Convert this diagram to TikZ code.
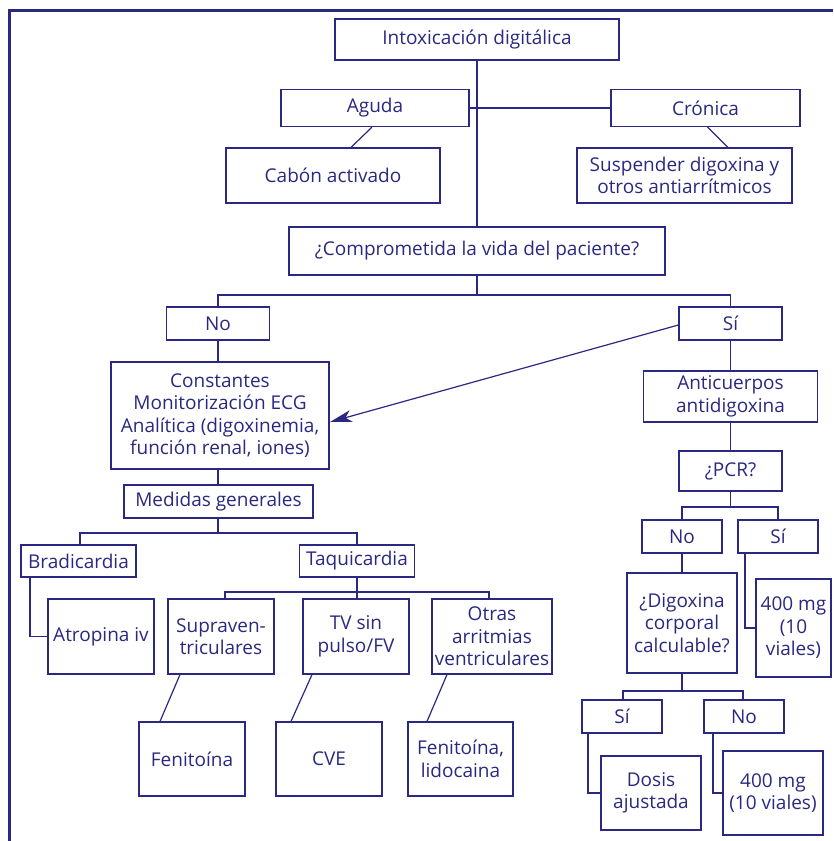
\documentclass[tikz,border=0pt]{standalone}
\usepackage{fontspec}
\setmainfont{Open Sans}
\usetikzlibrary{arrows.meta}
\definecolor{navy}{RGB}{42,40,128}
\begin{document}
\begin{tikzpicture}[x=1pt,y=-1pt,
  box/.style={draw=navy,line width=1.2pt,text=navy,inner sep=0pt,align=center,
    font=\fontsize{19}{22.5}\selectfont},
  conn/.style={draw=navy,line width=1.2pt},
  frame/.style={draw=navy,line width=2.6pt}]
\useasboundingbox (0,0) rectangle (833,841);
\draw[frame] (9.3,841) -- (9.3,10.3) -- (833,10.3);
% top part
\node[box,minimum width=284,minimum height=41] (intox) at (477,39.5) {Intoxicación digitálica};
\node[box,minimum width=188,minimum height=37] (aguda) at (375,108) {Aguda};
\node[box,minimum width=189,minimum height=37] (cronica) at (705.5,108) {Crónica};
\node[box,minimum width=214,minimum height=55] (cabon) at (333,175.5) {Cabón activado};
\node[box,minimum width=215,minimum height=55] (susp) at (684.5,175.5) {Suspender digoxina y\\otros antiarrítmicos};
\node[box,minimum width=376,minimum height=48] (compro) at (477,251) {¿Comprometida la vida del paciente?};
\draw[conn] (intox.south) -- (compro.north);
\draw[conn] (aguda.east) -- (cronica.west);
\draw[conn] ([xshift=-3]aguda.south) -- ([xshift=18]cabon.north);
\draw[conn] ([xshift=2]cronica.south) -- ([xshift=43.5]susp.north);
% No / Si
\coordinate (split1) at (477,295);
\node[box,minimum width=103,minimum height=33] (no1) at (218,323.5) {No};
\node[box,minimum width=103,minimum height=33] (si1) at (730.5,323.5) {Sí};
\draw[conn] (compro.south) -- (split1);
\draw[conn] (no1.north) |- (split1) -| (si1.north);
% left branch
\node[box,minimum width=218,minimum height=107] (const) at (220,415.5) {Constantes\\Monitorización ECG\\Analítica (digoxinemia,\\función renal, iones)};
\node[box,minimum width=189,minimum height=33] (medidas) at (218.5,501.5) {Medidas generales};
\draw[conn] (no1.south) -- (no1.south |- const.north);
\draw[conn] (const.south -| no1.south) -- (medidas.north -| no1.south);
\draw[conn,-{Stealth[length=22pt,width=12pt,inset=6pt]}] ([yshift=-1.5]si1.west) -- (330,422);
\coordinate (split2) at (218,533);
\node[box,minimum width=115,minimum height=32] (brad) at (78.5,561) {Bradicardia};
\node[box,minimum width=115,minimum height=32] (taqui) at (357,561) {Taquicardia};
\draw[conn] (medidas.south -| split2) -- (split2);
\draw[conn] ([xshift=1.5]brad.north) |- (split2) -| (taqui.north);
\node[box,minimum width=106,minimum height=75] (atro) at (101,636.5) {Atropina iv};
\draw[conn] ([xshift=-48.5]brad.south) |- (atro.west);
\coordinate (split3) at (357,592);
\node[box,minimum width=106,minimum height=75] (supra) at (221,636.5) {Supraven-\\triculares};
\node[box,minimum width=106,minimum height=75] (tv) at (356,636.5) {TV sin\\pulso/FV};
\node[box,minimum width=120,minimum height=75] (otras) at (492,636.5) {Otras\\arritmias\\ventriculares};
\draw[conn] (taqui.south) -- (split3);
\draw[conn] ([xshift=4]supra.north) |- (split3) -| ([xshift=-3]otras.north);
\draw[conn] (split3) -- (split3 |- tv.north);
\node[box,minimum width=106,minimum height=74] (feni) at (192,759) {Fenitoína};
\node[box,minimum width=106,minimum height=74] (cve) at (329,759) {CVE};
\node[box,minimum width=105,minimum height=74] (fenil) at (460.5,759) {Fenitoína,\\lidocaina};
\draw[conn] ([xshift=-41]supra.south) -- ([xshift=-32]feni.north);
\draw[conn] ([xshift=-44]tv.south) -- ([xshift=-38]cve.north);
\draw[conn] ([xshift=-45]otras.south) -- ([xshift=-33.5]fenil.north);
% right branch
\node[box,minimum width=174,minimum height=51] (anti) at (730.5,396.5) {Anticuerpos\\antidigoxina};
\node[box,minimum width=103,minimum height=40] (pcr) at (730.5,471) {¿PCR?};
\draw[conn] (si1.south) -- (anti.north);
\draw[conn] (anti.south) -- (pcr.north);
\coordinate (split4) at (730.5,507);
\node[box,minimum width=80,minimum height=33] (no2) at (682,536.5) {No};
\node[box,minimum width=80,minimum height=33] (si2) at (778,536.5) {Sí};
\draw[conn] (pcr.south) -- (split4);
\draw[conn] (no2.north) |- (split4) -| (si2.north);
\node[box,minimum width=110,minimum height=100] (digox) at (682,623) {¿Digoxina\\corporal\\calculable?};
\node[box,minimum width=75,minimum height=98] (mga) at (793.5,628) {400 mg\\(10\\viales)};
\draw[conn] (no2.south) -- (digox.north);
\draw[conn] ([xshift=-33]si2.south) |- (mga.west);
\coordinate (split5) at (682,691);
\node[box,minimum width=80,minimum height=33] (si3) at (622,716.5) {Sí};
\node[box,minimum width=80,minimum height=33] (no3) at (744,716.5) {No};
\draw[conn] (digox.south) -- (split5);
\draw[conn] ([xshift=1]si3.north) |- (split5) -| ([xshift=-1]no3.north);
\node[box,minimum width=100,minimum height=74] (dosis) at (651,793) {Dosis\\ajustada};
\node[box,minimum width=100,minimum height=84] (mgb) at (773,793) {400 mg\\(10 viales)};
\draw[conn] ([xshift=-34]si3.south) |- (dosis.west);
\draw[conn] ([xshift=-31]no3.south) |- (mgb.west);
\end{tikzpicture}
\end{document}
